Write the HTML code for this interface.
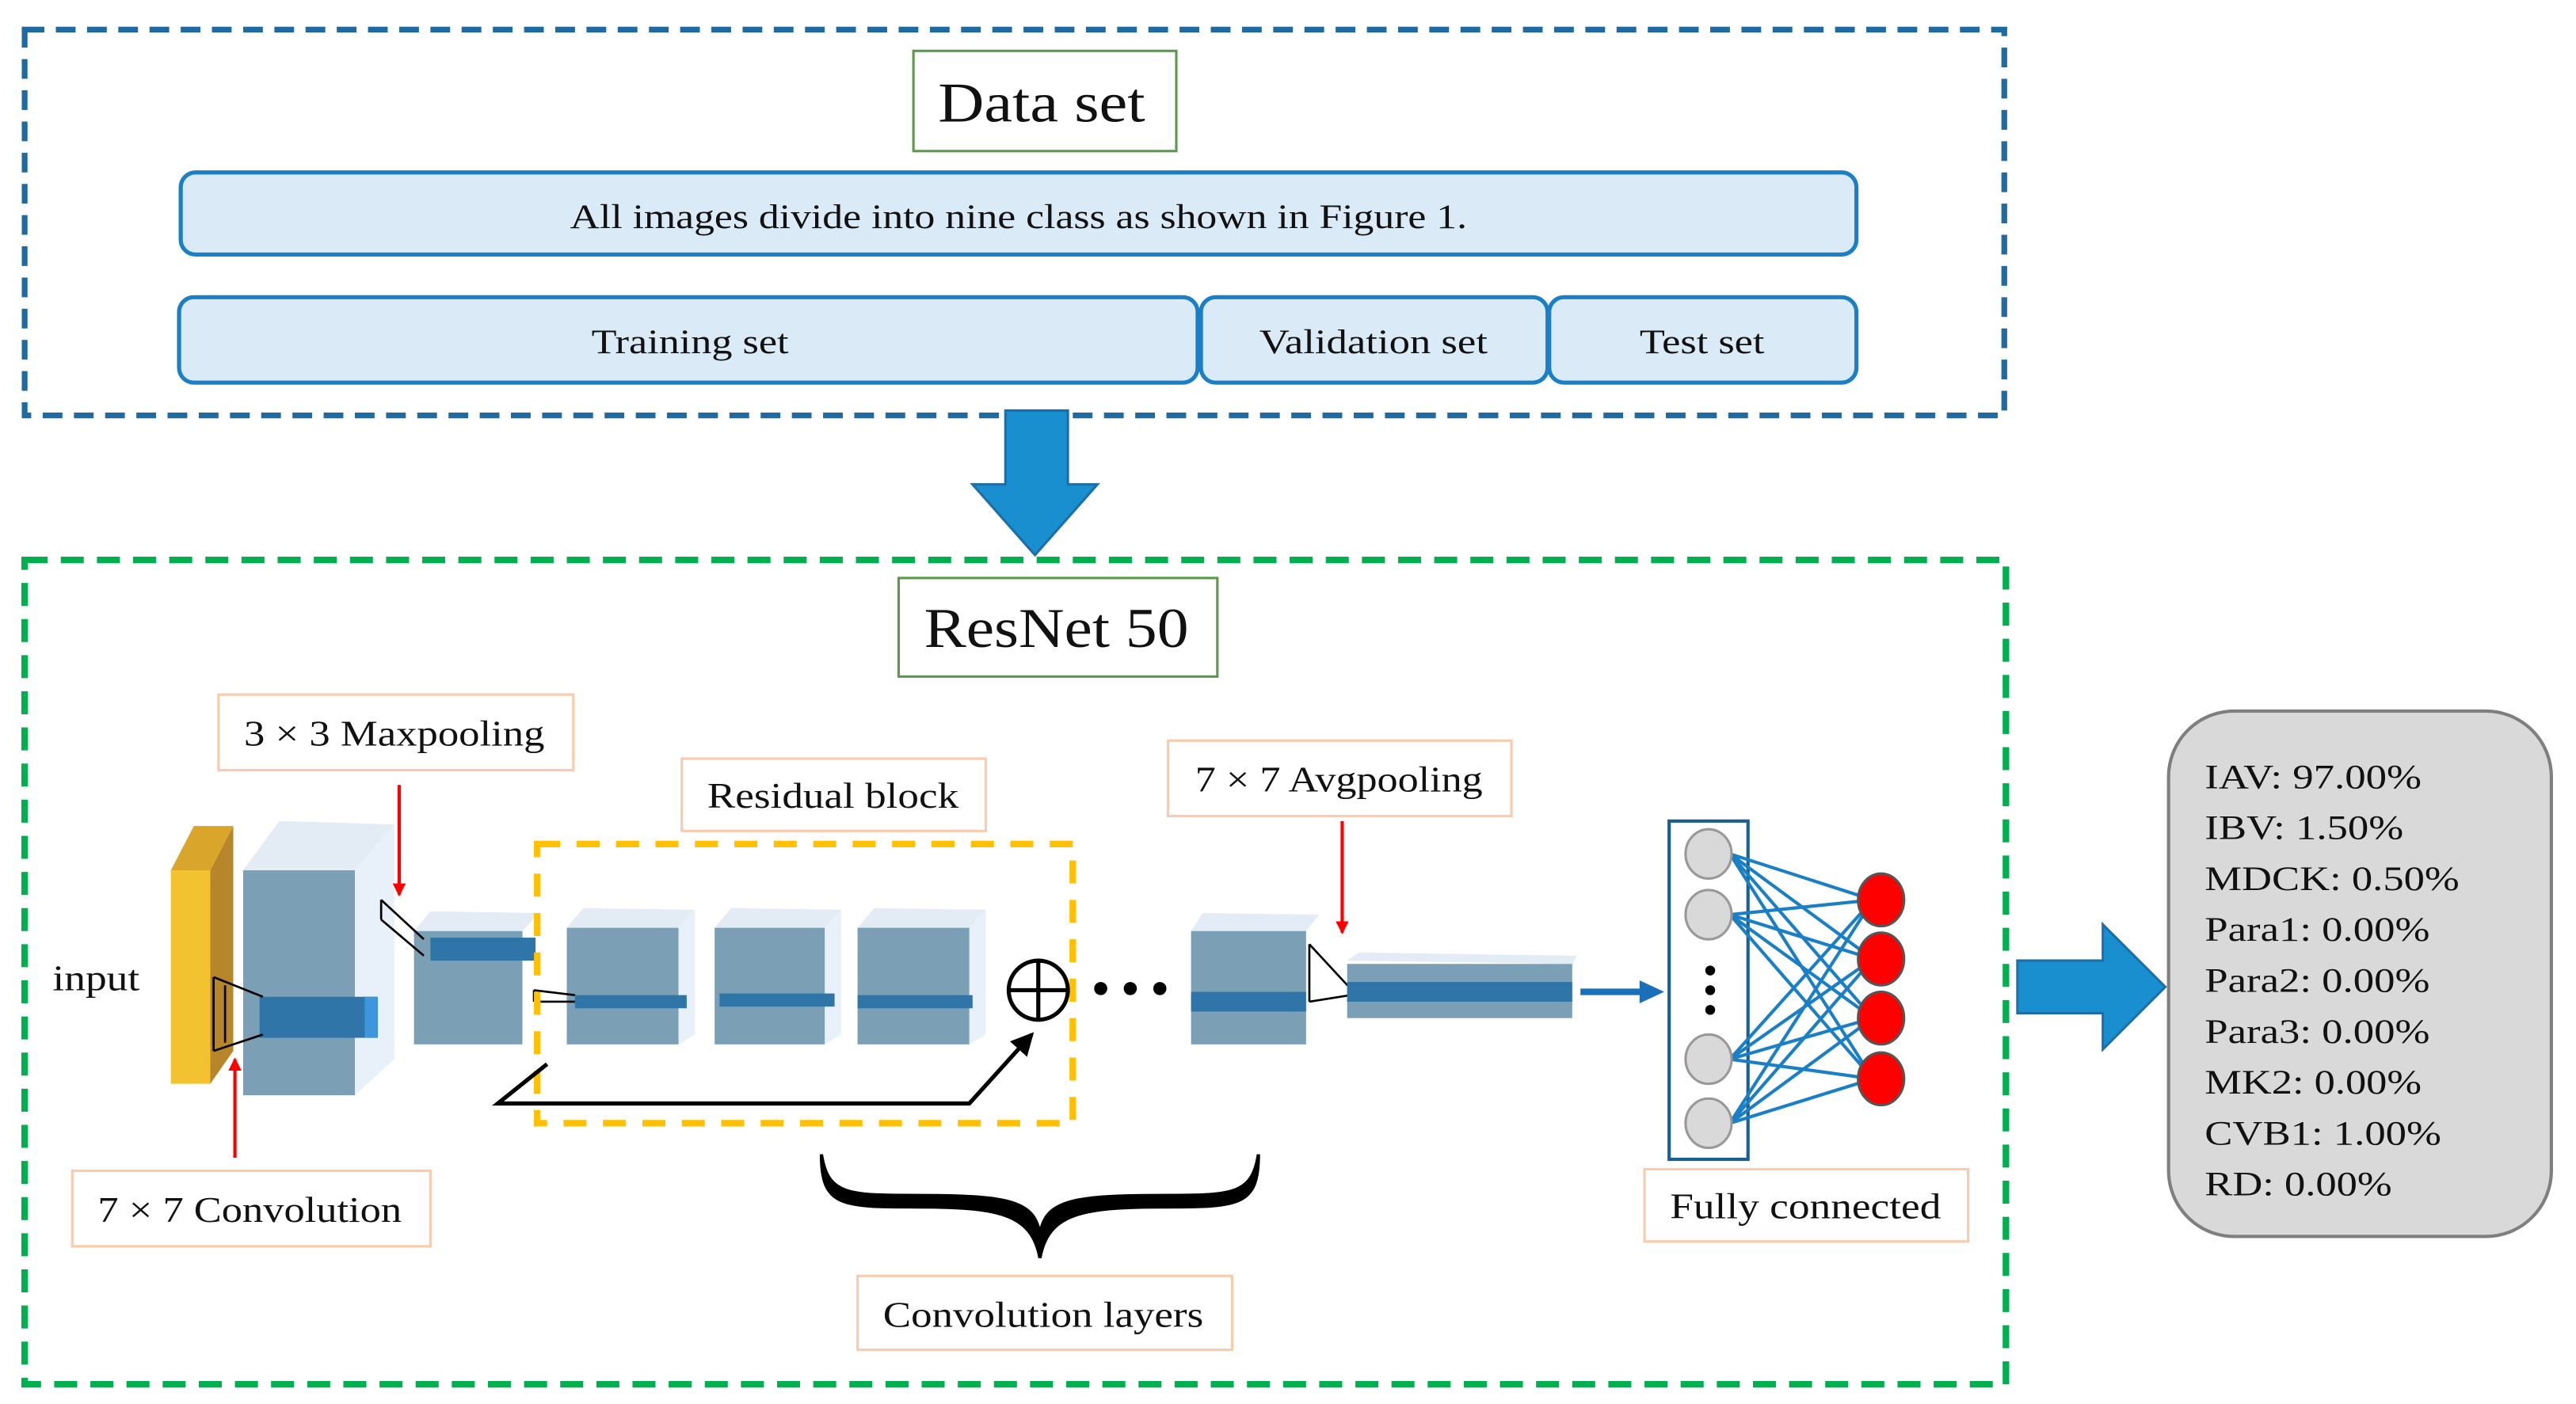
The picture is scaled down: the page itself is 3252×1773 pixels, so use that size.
<!DOCTYPE html>
<html><head><meta charset="utf-8"><style>
html,body{margin:0;padding:0;background:#fff;}
svg{display:block;}
text{font-family:"Liberation Serif",serif;fill:#111;}
</style></head><body>
<svg width="3252" height="1773" viewBox="0 0 1568 855" preserveAspectRatio="none" xmlns="http://www.w3.org/2000/svg">
<defs>
<marker id="ra" markerWidth="8" markerHeight="8" refX="7" refY="4" orient="auto" markerUnits="userSpaceOnUse"><path d="M0,0 L8,4 L0,8 Z" fill="#ff0000"/></marker>
<marker id="ka" markerWidth="14" markerHeight="14" refX="12" refY="7" orient="auto" markerUnits="userSpaceOnUse"><path d="M0,0 L14,7 L0,14 Z" fill="#000"/></marker>
</defs>
<rect x="15" y="18" width="1205" height="235" fill="none" stroke="#1f6aa0" stroke-width="3.5" stroke-dasharray="12 7"/>
<rect x="556" y="31" width="160" height="61" fill="#fff" stroke="#5a9a4a" stroke-width="1.5"/>
<text x="634" y="74" font-size="34" text-anchor="middle" textLength="126" lengthAdjust="spacingAndGlyphs">Data set</text>
<rect x="110" y="105" width="1020" height="50" rx="9" fill="#dbeaf7" stroke="#1a7fc4" stroke-width="2.5"/>
<text x="620" y="139" font-size="21" text-anchor="middle" textLength="546" lengthAdjust="spacingAndGlyphs">All images divide into nine class as shown in Figure 1.</text>
<rect x="109" y="181" width="620" height="52" rx="9" fill="#dbeaf7" stroke="#1a7fc4" stroke-width="2.5"/>
<text x="420" y="215" font-size="21" text-anchor="middle" textLength="120" lengthAdjust="spacingAndGlyphs">Training set</text>
<rect x="731" y="181" width="211" height="52" rx="9" fill="#dbeaf7" stroke="#1a7fc4" stroke-width="2.5"/>
<text x="836" y="215" font-size="21" text-anchor="middle" textLength="139" lengthAdjust="spacingAndGlyphs">Validation set</text>
<rect x="943" y="181" width="187" height="52" rx="9" fill="#dbeaf7" stroke="#1a7fc4" stroke-width="2.5"/>
<text x="1036" y="215" font-size="21" text-anchor="middle" textLength="76" lengthAdjust="spacingAndGlyphs">Test set</text>
<path d="M612,250 L650,250 L650,295 L668,295 L630,338 L592,295 L612,295 Z" fill="#1a8fd0" stroke="#1a6fa8" stroke-width="1.5"/>
<rect x="15" y="341" width="1206" height="502" fill="none" stroke="#00b050" stroke-width="4" stroke-dasharray="14 8"/>
<rect x="547" y="352" width="194" height="60" fill="#fff" stroke="#5a9a4a" stroke-width="1.5"/>
<text x="643" y="394" font-size="34" text-anchor="middle" textLength="161" lengthAdjust="spacingAndGlyphs">ResNet 50</text>
<g fill="#fff" stroke="#f8cbad" stroke-width="1.5">
<rect x="133" y="423" width="216" height="46"/>
<rect x="415" y="462" width="185" height="44"/>
<rect x="711" y="451" width="209" height="46"/>
<rect x="44" y="713" width="218" height="46"/>
<rect x="522" y="777" width="228" height="45"/>
<rect x="1001" y="712" width="197" height="44"/>
</g>
<text x="240" y="454" font-size="22" text-anchor="middle" textLength="183" lengthAdjust="spacingAndGlyphs">3 × 3 Maxpooling</text>
<text x="507" y="492" font-size="22" text-anchor="middle" textLength="153" lengthAdjust="spacingAndGlyphs">Residual block</text>
<text x="815" y="482" font-size="22" text-anchor="middle" textLength="175" lengthAdjust="spacingAndGlyphs">7 × 7 Avgpooling</text>
<text x="152" y="744" font-size="22" text-anchor="middle" textLength="185" lengthAdjust="spacingAndGlyphs">7 × 7 Convolution</text>
<text x="635" y="808" font-size="22" text-anchor="middle" textLength="195" lengthAdjust="spacingAndGlyphs">Convolution layers</text>
<text x="1099" y="742" font-size="22" text-anchor="middle" textLength="165" lengthAdjust="spacingAndGlyphs">Fully connected</text>
<text x="32" y="603" font-size="22" textLength="53" lengthAdjust="spacingAndGlyphs">input</text>
<path d="M104,530 L118,503 L142,503 L128,530 Z" fill="#d9a52a"/>
<path d="M104,530 L128,530 L128,660 L104,660 Z" fill="#f2c230"/>
<path d="M128,530 L142,503 L142,640 L128,660 Z" fill="#b8862a"/>
<path d="M148,530 L170,500 L240,502 L216,530 Z" fill="#e3ecf4"/>
<path d="M216,530 L240,502 L240,645 L216,667 Z" fill="#e8f1fa"/>
<rect x="148" y="530" width="68" height="137" fill="#7b9fb5"/>
<rect x="158" y="607" width="72" height="25" fill="#2f75a8"/>
<rect x="222" y="607" width="8" height="25" fill="#3d95dc"/>
<path d="M130,595 L160,607 M130,640 L160,630 M130,595 L130,640 M137,600 L137,635" stroke="#000" stroke-width="1.3" fill="none"/>
<path d="M252,567 L262,555 L328,556 L318,567 Z" fill="#e3ecf4"/>
<rect x="252" y="567" width="66" height="69" fill="#7b9fb5"/>
<rect x="262" y="571" width="64" height="14" fill="#2f75a8"/>
<path d="M232,548 L258,572 M232,560 L258,582 M232,548 L232,560" stroke="#000" stroke-width="1.3" fill="none"/>
<g>
<path d="M345,565 L355,553 L423,554 L413,565 Z" fill="#e3ecf4"/><path d="M413,565 L423,554 L423,630 L413,636 Z" fill="#e8f1fa"/>
<rect x="345" y="565" width="68" height="71" fill="#7b9fb5"/><rect x="350" y="606" width="68" height="8" fill="#2f75a8"/>
<path d="M435,565 L445,553 L512,554 L502,565 Z" fill="#e3ecf4"/><path d="M502,565 L512,554 L512,630 L502,636 Z" fill="#e8f1fa"/>
<rect x="435" y="565" width="67" height="71" fill="#7b9fb5"/><rect x="438" y="605" width="70" height="8" fill="#2f75a8"/>
<path d="M522,565 L532,553 L600,554 L590,565 Z" fill="#e3ecf4"/><path d="M590,565 L600,554 L600,630 L590,636 Z" fill="#e8f1fa"/>
<rect x="522" y="565" width="68" height="71" fill="#7b9fb5"/><rect x="522" y="606" width="70" height="8" fill="#2f75a8"/>
</g>
<path d="M325,603 L350,606 M325,610 L350,610 M325,603 L325,610" stroke="#000" stroke-width="1.3"/>
<rect x="327" y="514" width="326" height="170" fill="none" stroke="#ffc000" stroke-width="4" stroke-dasharray="14 10"/>
<circle cx="632" cy="603" r="18" fill="#fff" stroke="#000" stroke-width="2.5"/>
<path d="M614,603 L650,603 M632,585 L632,621" stroke="#000" stroke-width="2.5"/>
<polyline points="333,648 303,672 590,672 628,630" fill="none" stroke="#000" stroke-width="2.5" marker-end="url(#ka)"/>
<circle cx="670" cy="602" r="4" fill="#000"/><circle cx="688" cy="602" r="4" fill="#000"/><circle cx="706" cy="602" r="4" fill="#000"/>
<path d="M725,567 L732,556 L803,557 L795,567 Z" fill="#e3ecf4"/>
<rect x="725" y="567" width="70" height="69" fill="#7b9fb5"/>
<rect x="725" y="604" width="70" height="12" fill="#2f75a8"/>
<path d="M797,575 L822,602 M797,610 L822,606 M797,575 L797,610" stroke="#000" stroke-width="1.3" fill="none"/>
<path d="M820,585 L827,580 L960,582 L957,587 Z" fill="#e3ecf4"/>
<rect x="820" y="587" width="137" height="33" fill="#7b9fb5"/>
<rect x="820" y="598" width="137" height="12" fill="#2f75a8"/>
<line x1="962" y1="604" x2="1000" y2="604" stroke="#1a70b8" stroke-width="4"/>
<path d="M998,597 L1013,604 L998,611 Z" fill="#1a70b8"/>
<line x1="243" y1="478" x2="243" y2="545" stroke="#f00" stroke-width="2" marker-end="url(#ra)"/>
<line x1="143" y1="705" x2="143" y2="645" stroke="#f00" stroke-width="2" marker-end="url(#ra)"/>
<line x1="817" y1="500" x2="817" y2="568" stroke="#f00" stroke-width="2" marker-end="url(#ra)"/>
<path d="M500,703 C500,735 512,735 560,735 C610,735 628,740 633,766 C638,740 656,735 706,735 C754,735 766,735 766,703 C762,728 750,728 706,728 C650,728 636,732 633,752 C630,732 616,728 560,728 C516,728 504,728 500,703 Z" fill="#000" stroke="#000" stroke-width="2"/>
<rect x="1016" y="500" width="48" height="206" fill="#fff" stroke="#1a5f94" stroke-width="2"/>
<g stroke="#1a7fc4" stroke-width="2">
<line x1="1053" y1="520" x2="1140" y2="548"/><line x1="1053" y1="520" x2="1140" y2="584"/><line x1="1053" y1="520" x2="1140" y2="620"/><line x1="1053" y1="520" x2="1140" y2="657"/>
<line x1="1053" y1="557" x2="1140" y2="548"/><line x1="1053" y1="557" x2="1140" y2="584"/><line x1="1053" y1="557" x2="1140" y2="620"/><line x1="1053" y1="557" x2="1140" y2="657"/>
<line x1="1053" y1="645" x2="1140" y2="548"/><line x1="1053" y1="645" x2="1140" y2="584"/><line x1="1053" y1="645" x2="1140" y2="620"/><line x1="1053" y1="645" x2="1140" y2="657"/>
<line x1="1053" y1="684" x2="1140" y2="548"/><line x1="1053" y1="684" x2="1140" y2="584"/><line x1="1053" y1="684" x2="1140" y2="620"/><line x1="1053" y1="684" x2="1140" y2="657"/>
</g>
<g fill="#d9d9d9" stroke="#999" stroke-width="1.5">
<ellipse cx="1040" cy="520" rx="14" ry="15"/><ellipse cx="1040" cy="557" rx="14" ry="15"/>
<ellipse cx="1040" cy="645" rx="14" ry="15"/><ellipse cx="1040" cy="684" rx="14" ry="15"/>
</g>
<circle cx="1041" cy="591" r="3" fill="#000"/><circle cx="1041" cy="603" r="3" fill="#000"/><circle cx="1041" cy="615" r="3" fill="#000"/>
<g fill="#ff0000" stroke="#555" stroke-width="1.5">
<ellipse cx="1145" cy="548" rx="14" ry="16"/><ellipse cx="1145" cy="584" rx="14" ry="16"/>
<ellipse cx="1145" cy="620" rx="14" ry="16"/><ellipse cx="1145" cy="657" rx="14" ry="16"/>
</g>
<path d="M1228,585 L1280,585 L1280,563 L1318,601 L1280,639 L1280,617 L1228,617 Z" fill="#1a8fd0" stroke="#1a6fa8" stroke-width="1.5"/>
<rect x="1320" y="433" width="233" height="320" rx="40" fill="#d9d9d9" stroke="#7f7f7f" stroke-width="2"/>
<g font-size="21">
<text x="1342" y="480" textLength="132" lengthAdjust="spacingAndGlyphs">IAV: 97.00%</text>
<text x="1342" y="511" textLength="121" lengthAdjust="spacingAndGlyphs">IBV: 1.50%</text>
<text x="1342" y="542" textLength="155" lengthAdjust="spacingAndGlyphs">MDCK: 0.50%</text>
<text x="1342" y="573" textLength="137" lengthAdjust="spacingAndGlyphs">Para1: 0.00%</text>
<text x="1342" y="604" textLength="137" lengthAdjust="spacingAndGlyphs">Para2: 0.00%</text>
<text x="1342" y="635" textLength="137" lengthAdjust="spacingAndGlyphs">Para3: 0.00%</text>
<text x="1342" y="666" textLength="132" lengthAdjust="spacingAndGlyphs">MK2: 0.00%</text>
<text x="1342" y="697" textLength="144" lengthAdjust="spacingAndGlyphs">CVB1: 1.00%</text>
<text x="1342" y="728" textLength="114" lengthAdjust="spacingAndGlyphs">RD: 0.00%</text>
</g>
</svg>
</body></html>
